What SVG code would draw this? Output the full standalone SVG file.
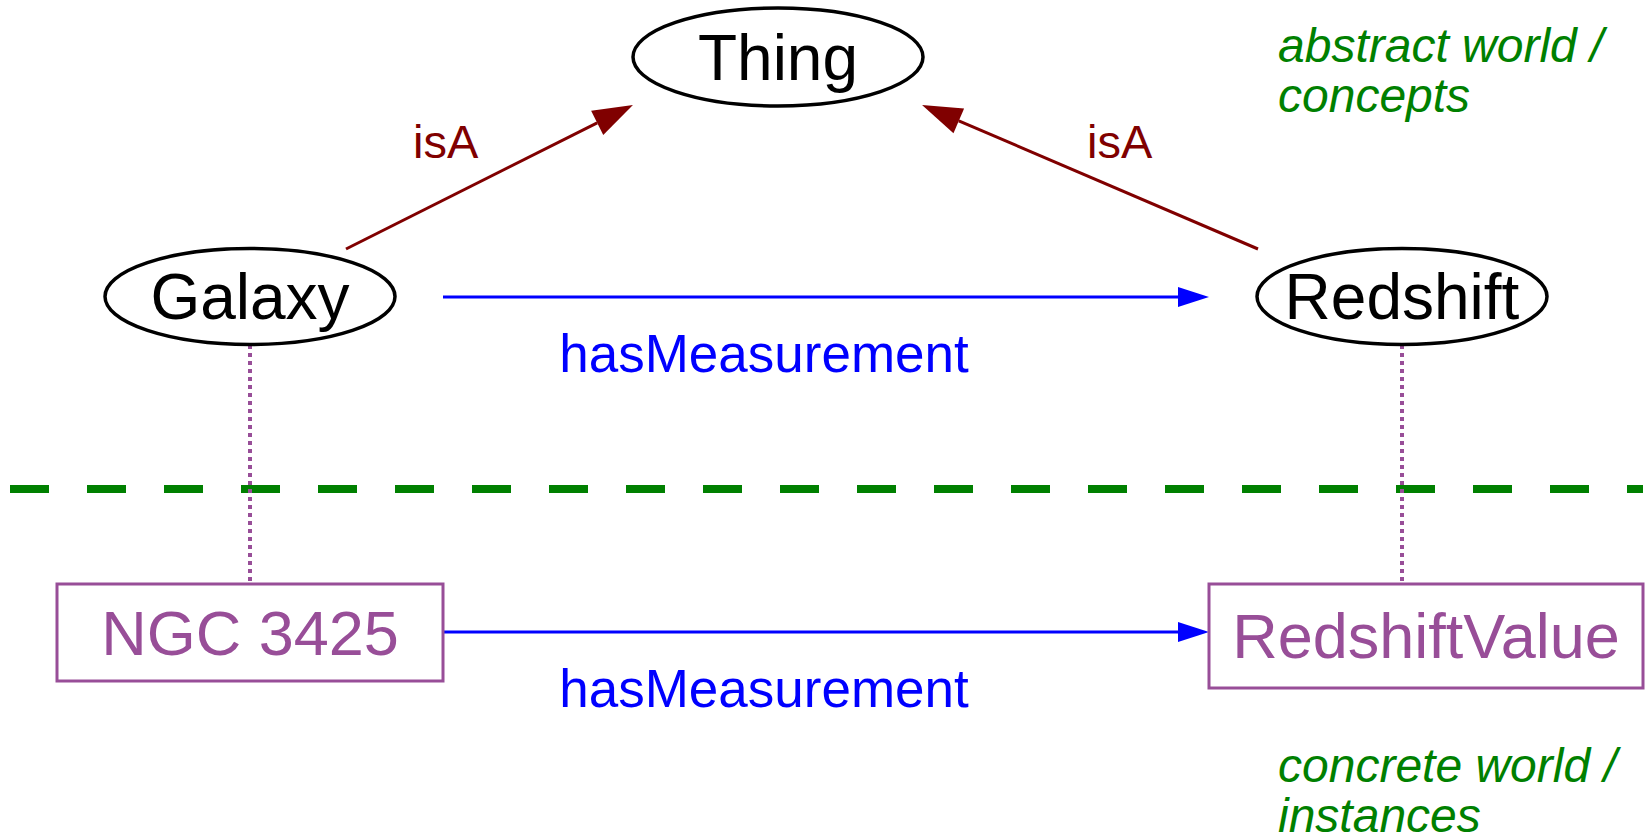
<svg xmlns="http://www.w3.org/2000/svg" width="1649" height="839" viewBox="0 0 1649 839">
<style>
text{font-family:"Liberation Sans",Arial,sans-serif}
.node{fill:#fff;stroke:#000;stroke-width:3.5}
.inst{fill:#fff;stroke:#984e98;stroke-width:3}
.nt{font-size:64px;fill:#000;text-anchor:middle}
.it{font-size:63px;fill:#984e98;text-anchor:middle}
.isa{stroke:#800000;stroke-width:3;fill:none}
.has{stroke:#0000ff;stroke-width:3;fill:none}
.dot{stroke:#984e98;stroke-width:4;stroke-dasharray:4 4;fill:none}
.lred{font-size:47px;fill:#800000}
.lblue{font-size:53px;fill:#0000ff;text-anchor:middle}
.green{font-size:48px;fill:#008000;font-style:italic}
</style>
<defs>
<marker id="ar" markerUnits="userSpaceOnUse" markerWidth="40" markerHeight="28" refX="0" refY="13.5" orient="auto" overflow="visible"><path d="M0,0 L40,13.5 L0,27 z" fill="#800000"/></marker>
<marker id="ab" markerUnits="userSpaceOnUse" markerWidth="31" markerHeight="20" refX="0" refY="10" orient="auto" overflow="visible"><path d="M0,0 L31,10 L0,20 z" fill="#0000ff"/></marker>
</defs>
<line x1="10" y1="489" x2="1643" y2="489" stroke="#008000" stroke-width="8" stroke-dasharray="39 38"/>
<g id="connectors">
<line class="dot" x1="250" y1="345" x2="250" y2="584"/>
<line class="dot" x1="1402" y1="345" x2="1402" y2="584"/>
<line class="isa" x1="346" y1="249" x2="597.2" y2="122.9" marker-end="url(#ar)"/>
<line class="isa" x1="1258" y1="249" x2="958.8" y2="120.8" marker-end="url(#ar)"/>
<line class="has" x1="443" y1="297" x2="1178" y2="297" marker-end="url(#ab)"/>
<line class="has" x1="443" y1="632" x2="1178" y2="632" marker-end="url(#ab)"/>
<text class="lred" x="413" y="158">isA</text>
<text class="lred" x="1087" y="158">isA</text>
<text class="lblue" x="764" y="372">hasMeasurement</text>
<text class="lblue" x="764" y="707">hasMeasurement</text>
</g>
<g id="thing"><ellipse class="node" cx="778" cy="57" rx="145" ry="49"/><text class="nt" x="778" y="80">Thing</text></g>
<g id="galaxy"><ellipse class="node" cx="250" cy="296.5" rx="145" ry="48"/><text class="nt" x="250" y="319">Galaxy</text></g>
<g id="redshift"><ellipse class="node" cx="1402" cy="296.5" rx="145" ry="48"/><text class="nt" x="1402" y="319">Redshift</text></g>
<g id="ngc3425"><rect class="inst" x="57" y="584" width="386" height="97"/><text class="it" x="250" y="655">NGC 3425</text></g>
<g id="redshiftvalue"><rect class="inst" x="1209" y="584" width="434" height="104"/><text class="it" x="1426" y="658">RedshiftValue</text></g>
<g id="labels">
<text class="green" x="1278" y="62">abstract world /</text>
<text class="green" x="1278" y="112">concepts</text>
<text class="green" x="1278" y="782">concrete world /</text>
<text class="green" x="1278" y="832">instances</text>
</g>
</svg>
